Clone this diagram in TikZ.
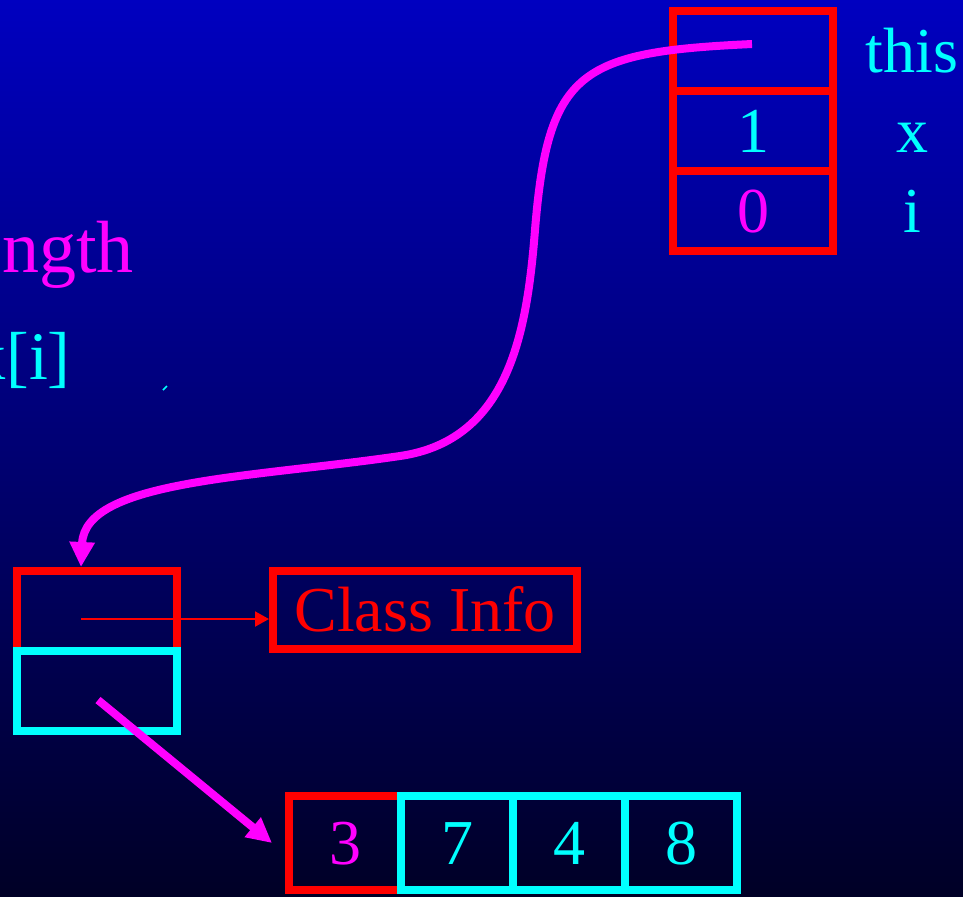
\documentclass[tikz,border=0pt]{standalone}
\usepackage{fontspec}
\setmainfont{Liberation Serif}
\usepackage{tikz}
\usetikzlibrary{
    arrows.meta,
    calc,
}
\definecolor{bgTop}{RGB}{0,0,192}
\definecolor{bgBottom}{RGB}{0,0,38}
\definecolor{ptrRed}{RGB}{255,0,0}
\definecolor{valCyan}{RGB}{0,255,255}
\definecolor{refPink}{RGB}{255,0,255}

\begin{document}
\begin{tikzpicture}[x=0.5pt,y=-0.5pt,line join=miter]

    \tikzstyle{commonNode}=[rectangle, draw, line width=4pt, inner sep=0pt, font=\fontsize{32}{38}\selectfont, text height=21.6pt, text depth=0pt, align=center]
    \tikzstyle{frameCell}=[commonNode, draw=ptrRed, text=valCyan, minimum width=80pt, minimum height=40pt]
    \tikzstyle{objHeader}=[commonNode, draw=ptrRed, minimum width=80pt, minimum height=40pt]
    \tikzstyle{objField}=[objHeader, draw=valCyan]
    \tikzstyle{classBox}=[commonNode, draw=ptrRed, text=ptrRed, minimum width=152pt, minimum height=39pt]
    \tikzstyle{arrayCell}=[commonNode, draw=valCyan, text=valCyan, minimum width=56pt, minimum height=47pt]
    \tikzstyle{lengthCell}=[arrayCell, draw=ptrRed, text=refPink]
    \tikzstyle{varName}=[text=valCyan, inner sep=0pt, font=\fontsize{32}{38}\selectfont, text height=21.6pt, text depth=0pt]
    \tikzstyle{codeText}=[inner sep=0pt, anchor=base east, font=\fontsize{37}{44}\selectfont]
    \tikzstyle{pointer}=[refPink, line width=4pt, -{Triangle[length=12.5pt,width=12pt]}]
    \tikzstyle{classRef}=[ptrRed, line width=1pt, -{Triangle[length=7pt,width=7.5pt]}]

    % Background
    \useasboundingbox (0,0) rectangle (963,896);
    \clip (0,0) rectangle (963,896);
    \shade[top color=bgTop, bottom color=bgBottom] (0,0) rectangle (963,896);

    \begin{scope}
        % Code (cut off at the left)
        \node at (134,272) [codeText, text=refPink] (lenText)  {length};
        \node at (71,379)  [codeText, text=valCyan, font=\fontsize{34}{41}\selectfont] (elemText) {x[i]};
        \draw [valCyan, line width=0.8pt] (163,390) -- (167,386);

        % Stack frame
        \node at (753,51)  [frameCell] (thisCell) {};
        \node at (753,131) [frameCell] (xCell)    {1};
        \node at (753,211) [frameCell, text=refPink] (iCell) {0};
        \node at (912,51)  [varName]   (thisName) {this};
        \node at (912,131) [varName]   (xName)    {x};
        \node at (912,211) [varName]   (iName)    {i};

        % Object
        \node at (97,611)  [objHeader] (objHead) {};
        \node at (97,691)  [objField]  (objBody) {};
        \node at (425,610) [classBox]  (ClassInfo) {Class Info};

        % Array
        \node at (345,843) [lengthCell] (lenCell) {3};
        \node at (457,843) [arrayCell]  (arr1)    {7};
        \node at (569,843) [arrayCell]  (arr2)    {4};
        \node at (681,843) [arrayCell]  (arr3)    {8};

        % References
        \coordinate (hdrPtr)  at ($(objHead.center)+(-16,8)$);
        \coordinate (bodyPtr) at ($(objBody.center)+(1,9)$);
        \draw [pointer] ($(thisCell.center)+(-1,-7)$) .. controls (580,52) and (548,70) .. (535,230)
            .. controls (527,330) and (510,440) .. (400,456)
            .. controls (250,478) and (85,480) .. ([xshift=-8pt]objHead.north);
        \draw [classRef] (hdrPtr) -- (hdrPtr -| ClassInfo.west);
        \draw [pointer] (bodyPtr) -- ([xshift=-6.5pt]lenCell.west);
    \end{scope}

\end{tikzpicture}
\end{document}
